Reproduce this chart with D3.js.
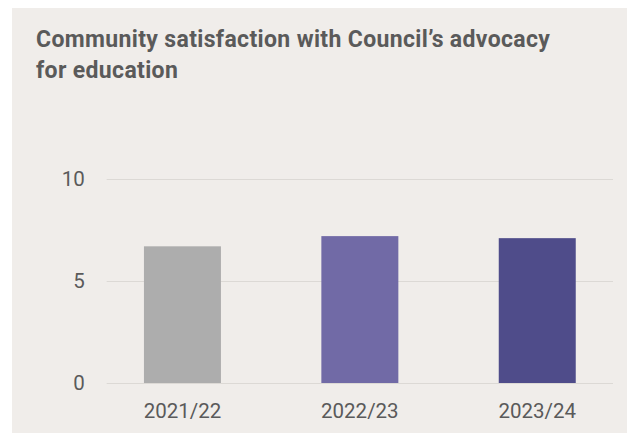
<!DOCTYPE html>
<html>
<head>
<meta charset="utf-8">
<script src="https://cdn.jsdelivr.net/npm/d3@7"></script>
<style>
  html, body { margin: 0; padding: 0; background: #ffffff; }
  svg { display: block; }
</style>
</head>
<body>
<svg id="chart" width="627" height="438"></svg>
<script>
// Survey years and satisfaction scores (out of 10)
const years = ["2021/22", "2022/23", "2023/24"];
const scores = [6.7, 7.2, 7.1];
const barColors = ["#adadad", "#716aa6", "#4f4c8a"];
const yTicks = [0, 5, 10];
const titleLines = ["Community satisfaction with Council\u2019s advocacy", "for education"];

const svg = d3.select("#chart");

// Panel background
svg.append("rect")
  .attr("x", 12).attr("y", 8)
  .attr("width", 615).attr("height", 425)
  .attr("fill", "#f0edea");

// Title
const title = svg.append("text")
  .attr("font-family", "Roboto, 'Noto Sans', sans-serif")
  .attr("font-weight", 700)
  .attr("font-size", 23)
  .attr("letter-spacing", 0.35)
  .attr("fill", "#5a5a5a");
titleLines.forEach((line, i) => {
  title.append("tspan")
    .attr("x", 36)
    .attr("y", 47 + i * 31)
    .text(line);
});

const plot = { left: 106.7, right: 613, top: 179, bottom: 383 };

const x = d3.scaleBand()
  .domain(years)
  .range([plot.left, plot.right])
  .paddingInner(0.566)
  .paddingOuter(0.21);

const y = d3.scaleLinear()
  .domain([0, 10])
  .range([plot.bottom, plot.top]);

// Horizontal gridlines with value labels
const yAxis = d3.axisLeft(y)
  .tickValues(yTicks)
  .tickSize(-(plot.right - plot.left))
  .tickPadding(22)
  .tickFormat(d3.format("d"));

const gy = svg.append("g")
  .attr("transform", `translate(${plot.left},0)`)
  .call(yAxis);
gy.select(".domain").remove();
gy.selectAll(".tick line")
  .attr("stroke", "#dcd9d5")
  .attr("stroke-width", 1);
gy.selectAll(".tick text")
  .attr("font-family", "Roboto, sans-serif")
  .attr("font-size", 20.5)
  .attr("fill", "#5a5a5a");

// Bars
svg.append("g")
  .selectAll("rect")
  .data(years)
  .join("rect")
  .attr("x", d => x(d))
  .attr("width", x.bandwidth())
  .attr("y", (d, i) => y(scores[i]))
  .attr("height", (d, i) => y(0) - y(scores[i]))
  .attr("fill", (d, i) => barColors[i]);

// Category labels
const xAxis = d3.axisBottom(x).tickSize(0).tickPadding(20);
const gx = svg.append("g")
  .attr("transform", `translate(0,${plot.bottom})`)
  .call(xAxis);
gx.select(".domain").remove();
gx.selectAll(".tick text")
  .attr("font-family", "Roboto, sans-serif")
  .attr("font-size", 20.5)
  .attr("fill", "#5a5a5a");
</script>
</body>
</html>
